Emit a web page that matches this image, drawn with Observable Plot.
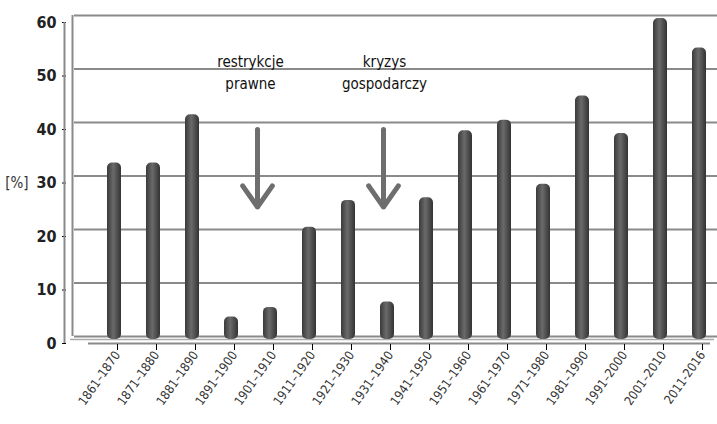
<!DOCTYPE html>
<html>
<head>
<meta charset="utf-8">
<script src="https://cdn.jsdelivr.net/npm/d3@7"></script>
<script src="https://cdn.jsdelivr.net/npm/@observablehq/plot@0.6"></script>
<style>
  body { margin: 0; background: #fff; }
  svg { font-family: "DejaVu Sans Condensed", "DejaVu Sans", sans-serif; }
</style>
</head>
<body>
<div id="chart"></div>
<script>
const periods = ["1861–1870", "1871–1880", "1881–1890", "1891–1900", "1901–1910", "1911–1920", "1921–1930", "1931–1940",
  "1941–1950", "1951–1960", "1961–1970", "1971–1980", "1981–1990", "1991–2000", "2001–2010", "2011-2016"];
const shares = [33, 33, 42, 4.2, 6, 21, 26, 7, 26.5, 39, 41, 29, 45.5, 38.5, 60, 54.5];
const yTicks = [0, 10, 20, 30, 40, 50, 60];

const data = periods.map((period, i) => ({ period, value: shares[i] }));

const chart = Plot.plot({
  width: 717,
  height: 424,
  marginLeft: 66,
  marginRight: 7,
  marginTop: 14,
  marginBottom: 80,
  x: { domain: periods, range: [89, 710], paddingInner: 0.64, paddingOuter: 0.15, align: 0.5 },
  y: { domain: [0, 60], range: [343, 22] },
  marks: [
    // back wall grid
    Plot.ruleY(yTicks, { dx: 8, dy: -7, stroke: "#8a8a8a", strokeWidth: 2 }),
    Plot.ruleX([0], { x: () => periods[0], y1: 0, y2: 60, dx: -35, dy: -7, stroke: "#8a8a8a", strokeWidth: 2 }),
    // floor edge
    Plot.ruleY([0], { stroke: "#aaa", strokeWidth: 1.5, dx: 4, dy: -4 }),
    Plot.barY(data, { x: "period", y: "value", fill: "url(#cyl)", dy: -4, dx: 7, rx: 5 }),
    Plot.axisY({ ticks: yTicks, tickSize: 4, anchor: "left", label: null, fontSize: 16, fontWeight: "bold", fill: "#222", tickPadding: 6 }),
    Plot.ruleX([0], { x: () => periods[0], y1: 0, y2: 60, dx: -43, stroke: "#8a8a8a", strokeWidth: 2 }),
    Plot.ruleY([0], { stroke: "#8a8a8a", strokeWidth: 2, insetLeft: 22 }),
    Plot.axisX({ tickRotate: -55, tickSize: 6, label: null, fontSize: 12.5, fill: "#333", tickPadding: 2, dx: 10 }),
    Plot.text(["[%]"], { frameAnchor: "left", y: () => 30, dx: -38, textAnchor: "end", fontSize: 15, fill: "#333" }),
    Plot.text(["restrykcje\nprawne"], { x: () => "1891–1900", y: () => 51, dx: 26, fontSize: 15, lineHeight: 1.5, fill: "#111" }),
    Plot.text(["kryzys\ngospodarczy"], { x: () => "1931–1940", y: () => 51, dx: 4, fontSize: 15, lineHeight: 1.5, fill: "#111" }),
    Plot.arrow([0], { x1: () => "1901–1910", x2: () => "1901–1910", y1: 40, y2: 25.5, dx: -6, stroke: "#6e6e6e", strokeWidth: 5, headLength: 10, headAngle: 70 }),
    Plot.arrow([0], { x1: () => "1931–1940", x2: () => "1931–1940", y1: 40, y2: 25.5, dx: 3, stroke: "#6e6e6e", strokeWidth: 5, headLength: 10, headAngle: 70 })
  ]
});

// cylinder shading
const svg = d3.select(chart);
const grad = svg.insert("defs", ":first-child").append("linearGradient").attr("id", "cyl");
grad.append("stop").attr("offset", "0%").attr("stop-color", "#3a3a3a");
grad.append("stop").attr("offset", "45%").attr("stop-color", "#6a6a6a");
grad.append("stop").attr("offset", "100%").attr("stop-color", "#333");
svg.selectAll("[aria-label='x-axis tick'] line, [aria-label='y-axis tick'] line").attr("stroke", "#777").attr("stroke-width", 2);

d3.select("#chart").append(() => chart);
</script>
</body>
</html>
